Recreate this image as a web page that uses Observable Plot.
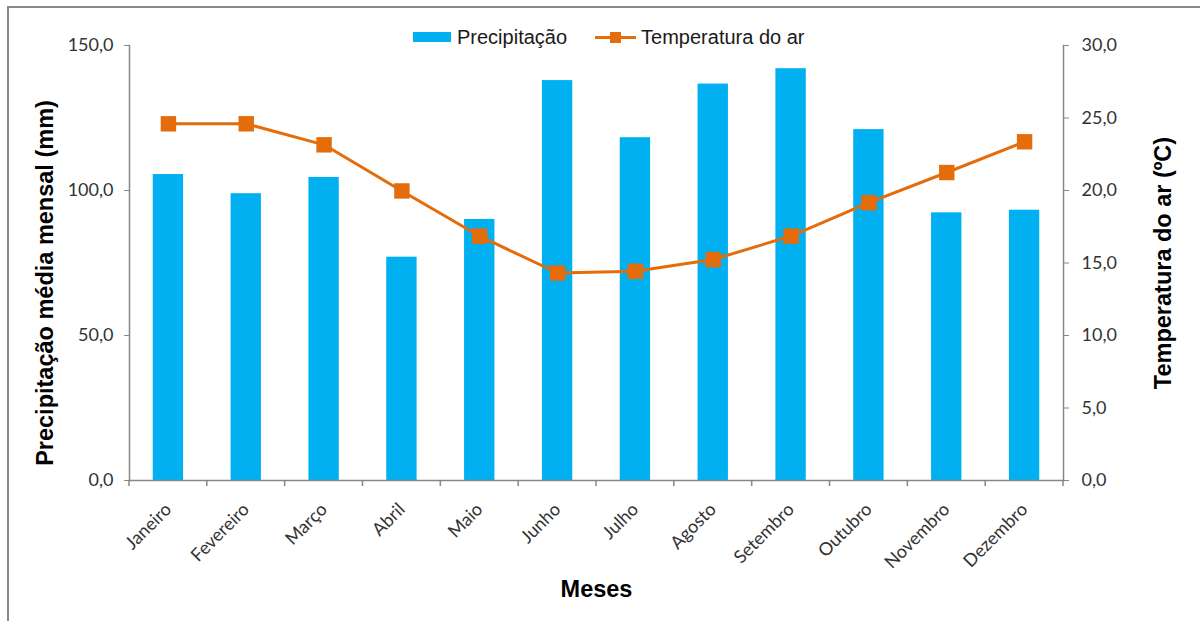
<!DOCTYPE html>
<html>
<head>
<meta charset="utf-8">
<script src="https://cdn.jsdelivr.net/npm/d3@7"></script>
<script src="https://cdn.jsdelivr.net/npm/@observablehq/plot@0.6"></script>
<style>
  html, body { margin: 0; padding: 0; background: #fff; }
  #wrap { position: relative; width: 1200px; height: 621px; overflow: hidden; background: #fff; }
  #frame { position: absolute; left: 7px; top: 6px; width: 1200px; height: 700px;
           border-left: 2px solid #8a8a8a; border-top: 2px solid #8a8a8a; pointer-events: none; z-index: 2; }
  #legend { position: absolute; left: 413px; top: 26px; height: 22px; display: flex; align-items: center;
            font-family: "Liberation Sans", Arial, sans-serif; font-size: 20px; color: #1a1a1a; z-index: 3; }
  .sw-bar { width: 38px; height: 10px; background: #00B0F0; margin-right: 6px; }
  .sw-line { position: relative; width: 41px; height: 3px; background: #E46C0A; margin-left: 28px; margin-right: 5px; }
  .sw-line::after { content: ""; position: absolute; left: 15px; top: -4px; width: 11px; height: 11px; background: #E46C0A; }
  #chart { position: absolute; left: 0; top: 0; }
</style>
</head>
<body>
<div id="wrap">
  <div id="chart"></div>
  <div id="frame"></div>
  <div id="legend">
    <div class="sw-bar"></div><span>Precipitação</span>
    <div class="sw-line"></div><span>Temperatura do ar</span>
  </div>
</div>
<script>
const months = ["Janeiro","Fevereiro","Março","Abril","Maio","Junho","Julho","Agosto","Setembro","Outubro","Novembro","Dezembro"];
const precipitacao = [105.5, 98.9, 104.5, 77.0, 90.0, 137.9, 118.2, 136.7, 142.0, 121.0, 92.3, 93.2];
const temperatura = [24.6, 24.6, 23.15, 19.97, 16.85, 14.31, 14.43, 15.24, 16.86, 19.16, 21.24, 23.36];
const leftTicks = [0, 50, 100, 150];
const rightTicks = [0, 5, 10, 15, 20, 25, 30];

const k = 150 / 30; // temperature -> precipitation scale factor
const data = months.map((m, i) => ({month: m, precip: precipitacao[i], temp: temperatura[i]}));
const fmt = v => d3.format(".1f")(v).replace(".", ",");
const axisColor = "#878787";
const tickFont = "Lato, 'Open Sans', sans-serif";
const titleFont = "'Liberation Sans', Arial, sans-serif";

const chart = Plot.plot({
  width: 1200,
  height: 621,
  marginLeft: 129,
  marginRight: 137,
  marginTop: 45,
  marginBottom: 141,
  style: {fontFamily: tickFont, fontSize: "18px", color: "#333", background: "transparent"},
  x: {domain: months, paddingInner: 0.61, paddingOuter: 0.305, round: false, label: null},
  y: {domain: [0, 150], label: null},
  marks: [
    Plot.barY(data, {x: "month", y: "precip", fill: "#00B0F0"}),
    Plot.ruleY([0], {stroke: axisColor, strokeWidth: 1.5}),
    Plot.frame({anchor: "left", stroke: axisColor, strokeWidth: 1.5}),
    Plot.frame({anchor: "right", stroke: axisColor, strokeWidth: 1.5}),
    Plot.axisY({ticks: leftTicks, tickFormat: fmt, tickSize: 5, tickPadding: 11, stroke: axisColor, label: null, fill: "#333"}),
    Plot.axisY({anchor: "right", ticks: rightTicks.map(t => t * k), tickFormat: v => fmt(v / k), tickSize: 5, tickPadding: 13, stroke: axisColor, label: null, fill: "#333"}),
    Plot.axisX({tickRotate: -45, tickSize: 0, tickPadding: 26, label: null, fill: "#333"}),
    Plot.line(data, {x: "month", y: d => d.temp * k, stroke: "#E46C0A", strokeWidth: 3}),
    Plot.dot(data, {x: "month", y: d => d.temp * k, symbol: "square", fill: "#E46C0A", r: 8.7}),
    Plot.text(["Precipitação média mensal (mm)"], {frameAnchor: "left", textAnchor: "middle", rotate: -90, dx: -84, dy: 20,
      fontSize: 23.5, fontWeight: "bold", fontFamily: titleFont, fill: "#000"}),
    Plot.text(["Temperatura do ar (ºC)"], {frameAnchor: "right", textAnchor: "middle", rotate: -90, dx: 100,
      fontSize: 23.5, fontWeight: "bold", fontFamily: titleFont, fill: "#000"}),
    Plot.text(["Meses"], {frameAnchor: "bottom", dy: 116,
      fontSize: 23.5, fontWeight: "bold", fontFamily: titleFont, fill: "#000"})
  ]
});

// Category boundary tick marks on the x axis, computed from Plot's own band scale
const sx = chart.scale("x");
const sy = chart.scale("y");
const y0 = sy.apply(0);
const bounds = months.map(m => sx.apply(m) + sx.bandwidth / 2 - sx.step / 2);
bounds.push(sx.apply(months[months.length - 1]) + sx.bandwidth / 2 + sx.step / 2);
d3.select(chart).append("g")
  .attr("stroke", axisColor).attr("stroke-width", 1.5)
  .selectAll("line").data(bounds).join("line")
  .attr("x1", d => d).attr("x2", d => d)
  .attr("y1", y0).attr("y2", y0 + 6);

document.getElementById("chart").appendChild(chart);
</script>
</body>
</html>
